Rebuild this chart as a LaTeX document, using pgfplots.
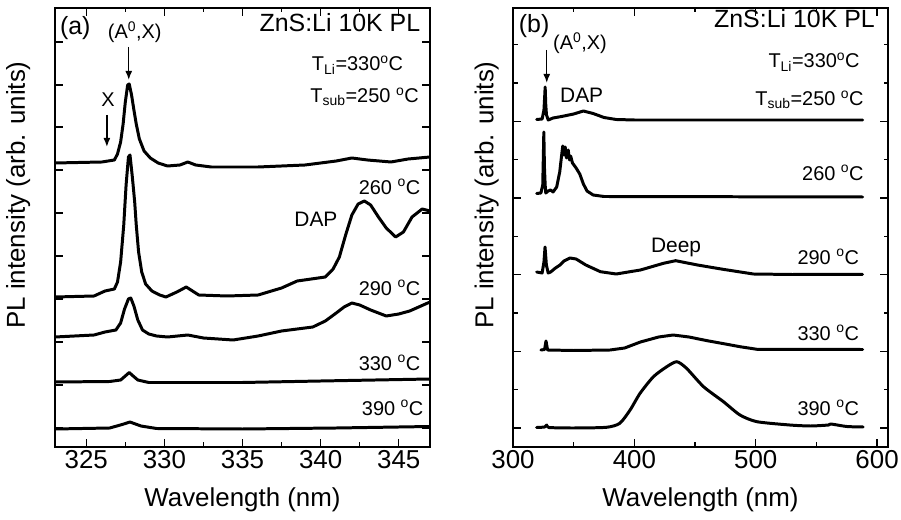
\documentclass[border=0pt]{standalone}
\usepackage{fontspec}
\setmainfont{Liberation Sans}
\usepackage{pgfplots}
\pgfplotsset{compat=1.18}
\usetikzlibrary{arrows.meta}

\pgfplotsset{
  plbox/.style={
    scale only axis, width=375bp, height=439bp,
    ymin=0, ymax=439,
    yticklabels={},
    tick align=inside,
    axis line style={line width=1.5pt},
    major tick length=8bp, minor tick length=4.5bp,
    every tick/.style={black, line width=1.2pt},
    tick label style={font=\fontsize{26}{31}\selectfont},
    label style={font=\fontsize{26}{31}\selectfont},
    /pgf/number format/assume math mode=true,
    xlabel={Wavelength (nm)},
    ylabel={PL intensity (arb. units)},
    xlabel style={at={(axis description cs:0.5,-0.121)}, anchor=center},
    xtick pos=both, ytick pos=both,
    clip mode=individual,
  },
}
\tikzset{
  tr/.style={black, line width=3pt, line join=round, line cap=round, mark=none},
  big/.style={font=\fontsize{25}{30}\selectfont},
  mid/.style={font=\fontsize{20}{24}\selectfont},
  arr/.style={-{Latex[length=9bp,width=7bp]}, line width=1.5pt},
}

\begin{document}
\begin{tikzpicture}[x=1bp,y=1bp]

% ---------------- (a) ----------------
\begin{axis}[plbox,
  at={(55bp,73bp)}, anchor=south west,
  xmin=323, xmax=347,
  xtick={325,330,...,345},
  minor xtick={327.5,332.5,337.5,342.5},
  ytick={19,62,105,148,191,234,277,320,362,405},
  ylabel style={at={(axis description cs:-0.098,0.574)}, anchor=center},
]
% 250 C
\addplot[tr] coordinates {(323,284)(326,285)(326.8,287)(327.0,293)(327.2,305)(327.36,323)(327.5,345)
  (327.65,362)(327.75,363)(327.9,352)(328.05,337)(328.2,323)(328.4,308)(328.7,296)(329.1,289)
  (329.6,284)(330.2,281)(331,282)(331.5,285)(332,282)(333,280)(336,280)(339,282)(341,286)
  (342,289)(343,287)(344.5,285)(345.6,288)(347,290)};
% 260 C
\addplot[tr] coordinates {(323,150)(325.5,151)(326.2,156)(326.8,158)(327.0,165)(327.2,185)(327.4,222)
  (327.55,262)(327.7,290)(327.8,292)(327.95,270)(328.1,245)(328.2,222)(328.35,195)(328.55,175)
  (328.8,163)(329.2,156)(329.7,152)(330.1,150)(330.8,155)(331.4,160)(332.2,152)(334,151)(336,152)
  (337.5,159)(338.5,166)(340.3,170)(340.8,178)(341.2,190)(341.6,212)(342,232)(342.4,243)(342.8,246)
  (343.2,242)(343.7,230)(344.2,219)(344.8,210)(345.3,215)(345.85,230)(346.5,238)(347,236)};
% 290 C
\addplot[tr] coordinates {(323,110)(325.5,112)(326.2,115)(326.9,117)(327.2,124)(327.45,138)(327.7,148)
  (327.85,149)(328.05,141)(328.3,127)(328.6,117)(329.0,113)(329.5,111)(330.2,110)(331.5,112)
  (332.5,109)(334.4,107)(336,111)(337.5,116)(339.5,120)(340.3,126)(341,134)(341.5,140)(342,144)
  (342.5,142)(343.2,137)(344.2,131)(345,133)(345.7,136)(347,145)};
% 330 C
\addplot[tr] coordinates {(323,65)(326.5,65.5)(327.2,67)(327.5,71)(327.75,74.5)(328.0,71)(328.3,67)
  (329,64.5)(335,64.5)(340,66)(347,68)};
% 390 C
\addplot[tr] coordinates {(323,18)(326.5,19)(327.3,22.5)(327.8,25)(328.5,21)(329.5,18.5)(335,18)
  (341,19)(347,20.5)};

\node[anchor=west, font=\fontsize{25}{30}\selectfont] at (axis cs:323.1,419) {(a)};
\node[mid] at (axis cs:328.1,415) {(A\textsuperscript{0},X)};
\draw[arr] (axis cs:327.72,400) -- (axis cs:327.72,367);
\node[mid] at (axis cs:326.4,347) {X};
\draw[arr] (axis cs:326.32,332) -- (axis cs:326.32,300);
\node[big, anchor=east] at (axis cs:346.6,424) {ZnS:Li 10K PL};
\node[mid, anchor=east] at (axis cs:345.5,382) {T\textsubscript{Li}=330\textsuperscript{o}C};
\node[mid, anchor=east] at (axis cs:346.5,350) {T\textsubscript{sub}=250 \textsuperscript{o}C};
\node[mid, anchor=east] at (axis cs:346.6,260) {260 \textsuperscript{o}C};
\node[font=\fontsize{21}{25}\selectfont] at (axis cs:339.7,228) {DAP};
\node[mid, anchor=east] at (axis cs:346.6,159) {290 \textsuperscript{o}C};
\node[mid, anchor=east] at (axis cs:346.6,84) {330 \textsuperscript{o}C};
\node[mid, anchor=east] at (axis cs:346.8,39) {390 \textsuperscript{o}C};
\end{axis}

% ---------------- (b) ----------------
\begin{axis}[plbox,
  at={(513bp,73bp)}, anchor=south west,
  xmin=300, xmax=609,
  xtick={300,400,500,600},
  minor xtick={350,450,550},
  ytick={19,95.7,172.3,249,325.7},
  minor ytick={57.3,134,210.7,287.3,364,402.3},
  ylabel style={at={(axis description cs:-0.07,0.574)}, anchor=center},
]
% 250 C
\addplot[tr] coordinates {(319.5,327.5)(324,328)(325.5,337)(326.0,348)(326.5,360)(327.0,342)(327.6,332)
  (329,327)(333,329)(340,330.5)(350,333)(358,336)(366,333.5)(375,329.5)(385,327.5)(400,327)(588,327)};
% 260 C
\addplot[tr] coordinates {(319.5,253.5)(323,254)(324.5,262)(325.0,290)(325.4,315)(325.9,280)(326.5,262)
  (327,254)(329,256)(331,257)(333,255)(336,260)(338.5,275)(340,291)(341,301)(342,292)(343,300)
  (344,289)(345.5,297)(346.5,287)(347.5,291)(349,284)(352,279)(355,273)(358,263)(361,256)
  (366,252)(375,250.5)(588,250)};
% 290 C
\addplot[tr] coordinates {(319.5,175)(324,174)(325.5,185)(326.4,200)(327.5,182)(329,174)(331,175)
  (335,179)(338.7,182)(342,186)(347,189)(352,188)(360,182)(372,175.3)(385,173)(405,177)
  (424,183.7)(434,186.3)(452,182)(473,177.7)(498,173)(530,172.5)(588,172.7)};
% 330 C
\addplot[tr] coordinates {(323,97)(326,97.5)(327.2,106)(328.5,97)(350,96.5)(380,97)(392,99)(405,105)
  (420,110)(432,112)(445,110)(460,106.3)(475,103)(487,100.3)(501,97.7)(588,97.5)};
% 390 C
\addplot[tr, smooth, tension=0.4] coordinates {(319.5,19.5)(326,20)(327.8,22)(329.5,19.5)(350,19)(377,19.7)(388,23.7)
  (396.5,37)(404.7,53.7)(415.7,70.3)(426.7,80.3)(435,85.3)(443,78.7)(457,60.3)(473.4,45.3)
  (487,32)(501,25.3)(528,22)(545,21)(560,22)(562,23)(575,20.5)(588.5,20)};

\node[anchor=west, font=\fontsize{25}{30}\selectfont] at (axis cs:302.0,421) {(b)};
\node[mid] at (axis cs:355.2,404) {(A\textsuperscript{0},X)};
\draw[arr] (axis cs:327.8,397) -- (axis cs:327.8,364);
\node[font=\fontsize{21}{25}\selectfont] at (axis cs:356.6,352) {DAP};
\node[big, anchor=east] at (axis cs:601,428) {ZnS:Li 10K PL};
\node[mid, anchor=east] at (axis cs:588.5,385) {T\textsubscript{Li}=330\textsuperscript{o}C};
\node[mid, anchor=east] at (axis cs:591.8,347) {T\textsubscript{sub}=250 \textsuperscript{o}C};
\node[mid, anchor=east] at (axis cs:591.8,274) {260 \textsuperscript{o}C};
\node[font=\fontsize{21}{25}\selectfont] at (axis cs:434.4,200) {Deep};
\node[mid, anchor=east] at (axis cs:588,190) {290 \textsuperscript{o}C};
\node[mid, anchor=east] at (axis cs:588,114) {330 \textsuperscript{o}C};
\node[mid, anchor=east] at (axis cs:588,39) {390 \textsuperscript{o}C};
\end{axis}

\pgfresetboundingbox
\path[use as bounding box] (0,0) rectangle (901bp,520bp);
\end{tikzpicture}
\end{document}
